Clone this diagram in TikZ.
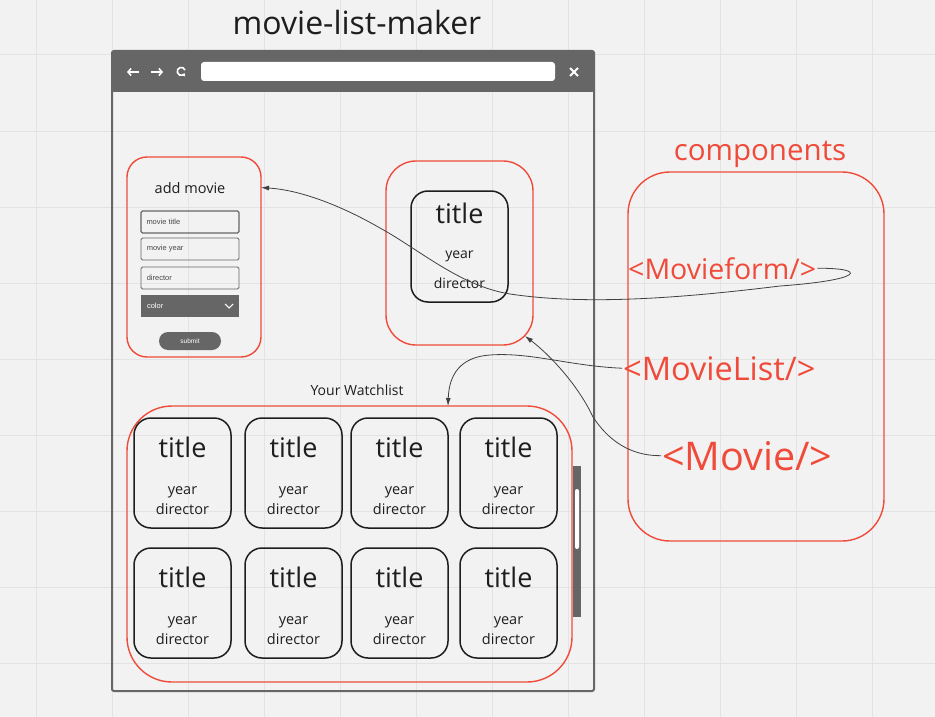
\documentclass[tikz,border=0pt]{standalone}
\usepackage{fontspec}
\setmainfont{Open Sans}
\newfontfamily\arialf{Liberation Sans}
\usetikzlibrary{arrows.meta,calc}
\definecolor{bg}{HTML}{F2F2F2}
\definecolor{gridc}{HTML}{E3E3E3}
\definecolor{redc}{HTML}{F04B3A}
\definecolor{darkg}{HTML}{666666}
\definecolor{txt}{HTML}{1E1E1E}
\newcommand{\fsz}[1]{\fontsize{#1}{#1}\selectfont}
\begin{document}
\begin{tikzpicture}[x=1pt,y=-1pt,
  redbox/.style={draw=redc, line width=1.4pt, inner sep=0pt, outer sep=0pt},
  card/.style={draw=txt, line width=1.5pt, rounded corners=17pt, minimum width=97pt, minimum height=110pt, inner sep=0pt, outer sep=0pt},
  titlef/.style={font=\fsz{27}, text=txt, inner sep=1pt, anchor=base},
  smallf/.style={font=\fsz{14.5}, text=txt, inner sep=1pt, anchor=base},
  redtxt/.style={text=redc, inner sep=1pt},
  field/.style={draw=darkg, line width=0.8pt, rounded corners=1.5pt, minimum width=98pt, minimum height=22pt, inner sep=0pt},
  fieldtext/.style={font=\arialf\fsz{7.5}, text=darkg!70!black, inner sep=0pt, anchor=west},
  conn/.style={draw=txt!85, line width=0.8pt, -{Latex[length=8pt,width=5pt]}},
  icon/.style={draw=white, line width=1.6pt}
]
\fill[bg] (0,0) rectangle (935,717);
\useasboundingbox (0,0) rectangle (935,717);
\foreach \x in {36,112,...,935} \draw[gridc, line width=1pt] (\x,0) -- (\x,717);
\foreach \y in {55,131,...,717} \draw[gridc, line width=1pt] (0,\y) -- (935,\y);

% title
\node[font=\fsz{32}, text=txt, anchor=base, inner sep=1pt] (maintitle) at (357,35) {movie-list-maker};

% browser
\node[draw=darkg, line width=2pt, rounded corners=2pt, minimum width=482pt, minimum height=640pt, inner sep=0pt, outer sep=0pt] (browser) at (353,371) {};
\fill[darkg, rounded corners=2pt] (browser.north west) rectangle ($(browser.north east)+(0,41)$);
\node[fill=white, rounded corners=3pt, minimum width=354pt, minimum height=19pt, inner sep=0pt] (addr) at (378,71.5) {};
\draw[icon, -{Straight Barb[length=3pt,width=7pt]}] (139,72) -- (127,72);
\draw[icon, -{Straight Barb[length=3pt,width=7pt]}] (151,72) -- (163,72);
\draw[icon, -{Triangle[length=2.5pt,width=4pt]}] (185,70) arc[start angle=-20, end angle=-330, radius=4];
\draw[icon, line width=1.8pt] (570,68) -- (578,76) (570,76) -- (578,68);

% add movie form
\node[redbox, rounded corners=20pt, minimum width=134pt, minimum height=200pt] (addbox) at (194,257) {};
\node[smallf] (addtitle) at (190,193) {add movie};
\node[field, line width=1.4pt] (f1) at (190,222) {};
\node[fieldtext] (f1t) at ($(f1.west)+(6,0)$) {movie title};
\node[field] (f2) at (190,249) {};
\node[fieldtext] (f2t) at ($(f2.west)+(6,0)$) {movie year};
\node[field] (f3) at (190,278) {};
\node[fieldtext] (f3t) at ($(f3.west)+(6,0)$) {director};
\node[fill=darkg, minimum width=98pt, minimum height=22pt, inner sep=0pt] (f4) at (190,306) {};
\node[fieldtext, text=white] (f4t) at ($(f4.west)+(6,0)$) {color};
\draw[white, line width=1pt] ($(f4.east)+(-14,-2)$) -- ($(f4.east)+(-10,2)$) -- ($(f4.east)+(-6,-2)$);
\node[fill=darkg, rounded corners=9pt, minimum width=62pt, minimum height=18pt, inner sep=0pt, font=\arialf\fsz{6.5}, text=white] (submit) at (190,341) {submit};

% single movie card
\node[redbox, rounded corners=30pt, minimum width=147pt, minimum height=184pt] (topbox) at (459.5,253) {};
\node[card, minimum height=111pt] (topcard) at (459.5,246.5) {};
\node[titlef, font=\fsz{27}] (topt) at ($(topcard.north)+(0,32)$) {title};
\node[smallf, font=\fsz{14}] (topy) at ($(topcard.north)+(0,67)$) {year};
\node[smallf, font=\fsz{14}] (topd) at ($(topcard.north)+(0,97)$) {director};

% components
\node[redbox, rounded corners=42pt, minimum width=256pt, minimum height=369pt] (comp) at (756,356.5) {};
\node[redtxt, font=\fsz{29.5}, anchor=base] (complabel) at (760,160) {components};
\node[redtxt, font=\fsz{28.5}, anchor=base west] (mf) at (627,279) {<Movieform/>};
\node[redtxt, font=\fsz{32.5}, anchor=base west] (ml) at (622,380) {<MovieList/>};
\node[redtxt, font=\fsz{39.5}, anchor=base west] (mv) at (661,470) {<Movie/>};

% watchlist
\node[smallf, font=\fsz{14}] (wltitle) at (357,395) {Your Watchlist};
\node[redbox, rounded corners=45pt, minimum width=445pt, minimum height=276pt] (wl) at (349.5,544) {};
\foreach \r/\y in {1/473,2/603} {
  \foreach \c/\x in {1/182.5,2/293.5,3/399.5,4/508.5} {
    \node[card] (c\r\c) at (\x,\y) {};
    \node[titlef] (c\r\c-t) at ($(c\r\c.north)+(0,39)$) {title};
    \node[smallf] (c\r\c-y) at ($(c\r\c.north)+(0,76)$) {year};
    \node[smallf] (c\r\c-d) at ($(c\r\c.north)+(0,96)$) {director};
  }
}
\node[fill=darkg, minimum width=8pt, minimum height=151pt, inner sep=0pt] (scroll) at (577,541.5) {};
\node[fill=white, rounded corners=2pt, minimum width=4pt, minimum height=60pt, inner sep=0pt] (thumb) at (577,519) {};

% connectors
\draw[conn] (mf.east) .. controls (868,268) and (864,280) .. (780,286)
  .. controls (690,297) and (590,306) .. (510,294)
  .. controls (460,286) and (420,250) .. (380,228)
  .. controls (340,205) and (300,190) .. (addbox.east |- addtitle.center);
\draw[conn] (ml.west) .. controls (570,366) and (530,352) .. (490,355)
  .. controls (460,357) and (449,375) .. (wl.north -| c13.east);
\draw[conn] (mv.west) .. controls (630,456) and (608,440) .. (593,417)
  .. controls (578,385) and (550,355) .. ($(topbox.south east)+(-8,-9)$);
\end{tikzpicture}
\end{document}
